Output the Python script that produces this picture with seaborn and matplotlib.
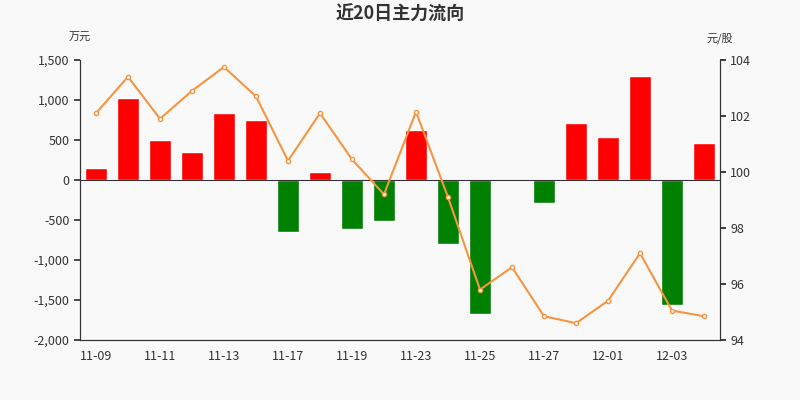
import matplotlib
matplotlib.use("Agg")
import matplotlib.pyplot as plt
import seaborn as sns
import pandas as pd
import numpy as np

dates = ["11-09","11-10","11-11","11-12","11-13","11-16","11-17","11-18","11-19","11-20",
         "11-23","11-24","11-25","11-26","11-27","11-30","12-01","12-02","12-03","12-04"]
flow = [150, 1030, 500, 350, 840, 750, -650, 100, -610, -510,
        630, -800, -1670, 0, -290, 710, 540, 1300, -1560, 460]
price = [102.1, 103.4, 101.9, 102.9, 103.75, 102.7, 100.4, 102.1, 100.45, 99.2,
         102.15, 99.1, 95.8, 96.6, 94.85, 94.6, 95.4, 97.1, 95.05, 94.85]

sns.set_theme(style="white")
plt.rcParams['font.family'] = ['Noto Sans CJK SC', 'DejaVu Sans']

df = pd.DataFrame({"date": dates, "flow": flow, "price": price})
colors = ["#ff0000" if v >= 0 else "#008000" for v in flow]

fig = plt.figure(figsize=(8, 4), dpi=100, facecolor="#f9f9f9")
ax = fig.add_axes([0.1, 0.15, 0.8, 0.7], facecolor="#f9f9f9")
sns.barplot(data=df, x="date", y="flow", hue="date", palette=colors, legend=False,
            width=0.7, ax=ax, saturation=1)
ax.axhline(0, color="#333333", lw=0.8)
ax.set_ylim(-2000, 1500)
ax.set_yticks(range(-2000, 1501, 500))
ax.set_yticklabels([f"{v:,}" for v in range(-2000, 1501, 500)], fontsize=9)
ax.set_xticks(range(0, 20, 2))
ax.set_xticklabels(dates[::2], fontsize=9)
ax.set_xlim(-0.5, 19.5)
ax.set_xlabel(""); ax.set_ylabel("")
ax.tick_params(axis="both", length=4, color="#333333", labelcolor="#333333")

ax2 = ax.twinx()
ax2.plot(range(20), price, color="#f7943f", lw=1.5, marker="o", ms=3,
         mfc="white", mec="#f7943f", mew=1)
ax2.set_ylim(94, 104)
ax2.set_yticks(range(94, 105, 2))
ax2.tick_params(axis="y", labelsize=9, length=4, labelcolor="#333333")
for a in (ax, ax2):
    a.spines["top"].set_visible(False)
    for s in ("left", "right", "bottom"):
        a.spines[s].set_color("#333333")
        a.spines[s].set_linewidth(0.8)

fig.text(0.5, 0.965, "近20日主力流向", ha="center", va="center", fontsize=13,
         color="#333333", fontweight="bold")
fig.text(0.1, 0.905, "万元", ha="center", va="center", fontsize=8, color="#333333")
fig.text(0.9, 0.905, "元/股", ha="center", va="center", fontsize=8, color="#333333")
fig.savefig("out.png", dpi=100, facecolor=fig.get_facecolor())
